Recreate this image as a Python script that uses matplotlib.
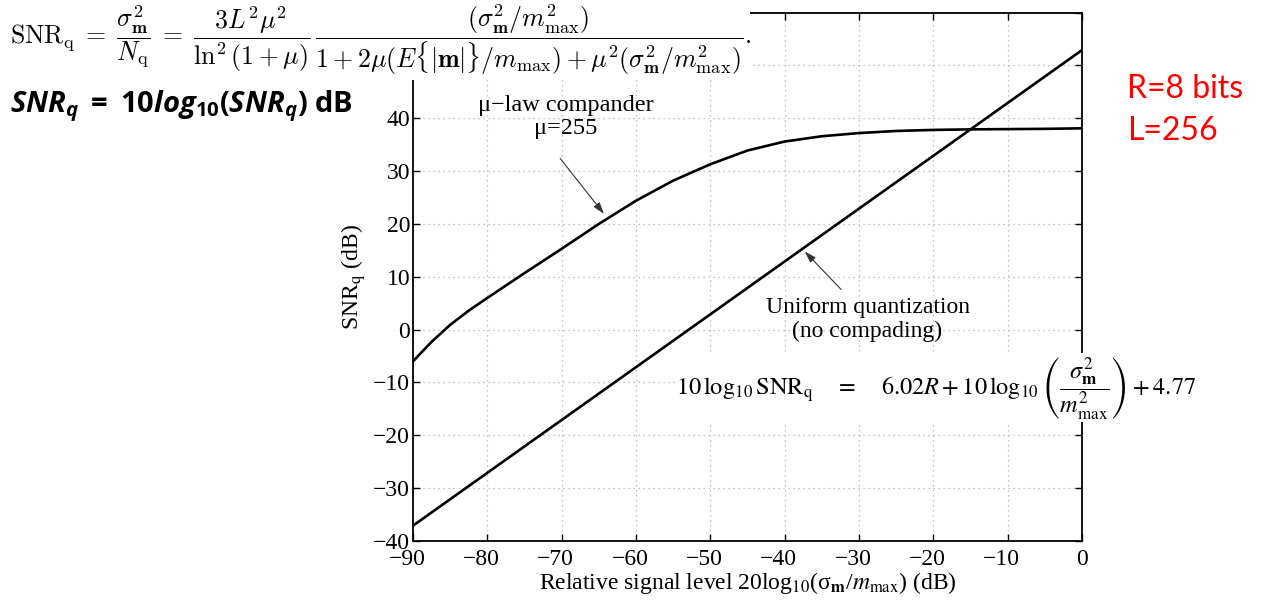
import matplotlib
matplotlib.use("Agg")
import matplotlib.pyplot as plt
from matplotlib.patches import Rectangle
from matplotlib.transforms import ScaledTranslation

# ---- data ----
mu_x = [-90, -87.5, -85, -82.5, -80, -75, -70, -65, -60, -55, -50, -45, -40, -35, -30, -25, -20, -15, -10, -5, 0]
mu_y = [-6.0, -2.3, 0.9, 3.6, 6.0, 10.7, 15.3, 20.0, 24.4, 28.2, 31.3, 33.9, 35.6, 36.6, 37.2, 37.6, 37.8, 37.9, 37.95, 38.0, 38.1]
uni_x = [-90, 0]
uni_y = [-37.1, 52.9]
xticks = [-90, -80, -70, -60, -50, -40, -30, -20, -10, 0]
yticks = [-40, -30, -20, -10, 0, 10, 20, 30, 40, 50, 60]
ytick_labels = ["\u221240", "\u221230", "\u221220", "\u221210", "0", "10", "20", "30", "40", "", ""]

W, H = 1262, 608
fig = plt.figure(figsize=(W / 100, H / 100), dpi=100)
plt.rcParams['font.family'] = ['Liberation Serif', 'DejaVu Serif']
plt.rcParams['mathtext.fontset'] = 'stix'

ax = fig.add_axes([413 / W, 1 - 541 / H, (1082 - 413) / W, (541 - 12.6) / H])
ax.plot(mu_x, mu_y, color='black', lw=1.9, zorder=3)
ax.plot(uni_x, uni_y, color='black', lw=1.9, zorder=3)
ax.set_xlim(-90, 0)
ax.set_ylim(-40, 60)
ax.set_xticks(xticks)
ax.set_yticks(yticks)
ax.set_xticklabels([f"\u2212{-t}" if t < 0 else str(t) for t in xticks])
ax.set_yticklabels(ytick_labels)
ax.tick_params(direction='in', top=True, right=True, labelsize=17, length=5, width=1)
ax.tick_params(axis='x', pad=6)
ax.tick_params(axis='y', pad=2)
for t, lab in zip(xticks, ax.get_xticklabels()):
    if t < 0:
        lab.set_transform(lab.get_transform() + ScaledTranslation(-6 / 100, 0, fig.dpi_scale_trans))
ax.grid(True, linestyle=(0, (1, 3)), color='#b0b0b0', lw=0.9)
for s in ax.spines.values():
    s.set_linewidth(1.3)
ax.set_xlabel("Relative signal level 20log$_{10}$(σ$_{\\mathbf{m}}$/$m_{\\mathrm{max}}$) (dB)",
              fontsize=17, labelpad=0)
ax.set_ylabel("SNR$_{\\mathrm{q}}$ (dB)", fontsize=17, labelpad=4)

# annotations
arrow = dict(arrowstyle='-|>,head_length=0.7,head_width=0.22', color='#333333', lw=0.8,
             shrinkA=0, shrinkB=0)
ax.annotate("", xy=(-64.3, 21.9), xytext=(-70.2, 32.4), arrowprops=arrow)
ax.text(-69.4, 40.2, "\u03bc\u2212law compander\n\u03bc=255", ha='center', va='center',
        fontsize=17.5, linespacing=1.15)
ax.annotate("", xy=(-37.3, 14.8), xytext=(-32.4, 7.6), arrowprops=arrow)
ax.text(-28.85, 1.9, "Uniform quantization\n(no compading)", ha='center', va='center',
        fontsize=17, linespacing=1.15)
ax.text(-54.6, -11,
        r"$10\,\log_{10}\mathrm{SNR}_\mathrm{q}\quad\;=\;\quad 6.02R+10\,\log_{10}\left(\dfrac{\sigma_\mathbf{m}^2}{m_\mathrm{max}^2}\right)+4.77$",
        fontsize=17.5, ha='left', va='center', math_fontfamily='stix', clip_on=False, zorder=5,
        bbox=dict(facecolor='white', edgecolor='none', pad=1))

# top-left formula panel (white, covering the top-left of the axes)
fig.add_artist(Rectangle((0, 1 - 80 / H), 750 / W, 80 / H, transform=fig.transFigure,
                         facecolor='white', edgecolor='none', zorder=10))
fig.text(10 / W, 1 - 40 / H,
         r"$\mathrm{SNR}_\mathrm{q}\;=\;\dfrac{\sigma_\mathbf{m}^2}{N_\mathrm{q}}\;=\;\dfrac{3L^2\mu^2}{\ln^2(1+\mu)}\,\dfrac{(\sigma_\mathbf{m}^2/m_\mathrm{max}^2)}{1+2\mu(E\{|\mathbf{m}|\}/m_\mathrm{max})+\mu^2(\sigma_\mathbf{m}^2/m_\mathrm{max}^2)}.$",
         fontsize=18.6, ha='left', va='center', math_fontfamily='cm', zorder=11)

plt.rcParams['mathtext.bfit'] = 'Open Sans:italic:bold'
plt.rcParams['mathtext.rm'] = 'Open Sans:bold'
plt.rcParams['mathtext.bf'] = 'Open Sans:bold'
plt.rcParams['mathtext.it'] = 'Open Sans:italic:bold'
fig.text(10 / W, 1 - 106 / H,
         r"$\mathit{SNR_q}$ $\mathbf{=}$ $\mathit{10log_{10}(SNR_q)}$ dB",
         fontsize=21, ha='left', va='center', math_fontfamily='custom',
         family='Open Sans', fontweight='bold', zorder=11)

# red annotation
fig.text(1127 / W, 1 - 88.5 / H, "R=8 bits", color='#ff0000', fontsize=23,
         family='Lato', ha='left', va='center')
fig.text(1127 / W, 1 - 131 / H, "L=256", color='#ff0000', fontsize=23,
         family='Lato', ha='left', va='center')

fig.savefig("out.png", dpi=100)
